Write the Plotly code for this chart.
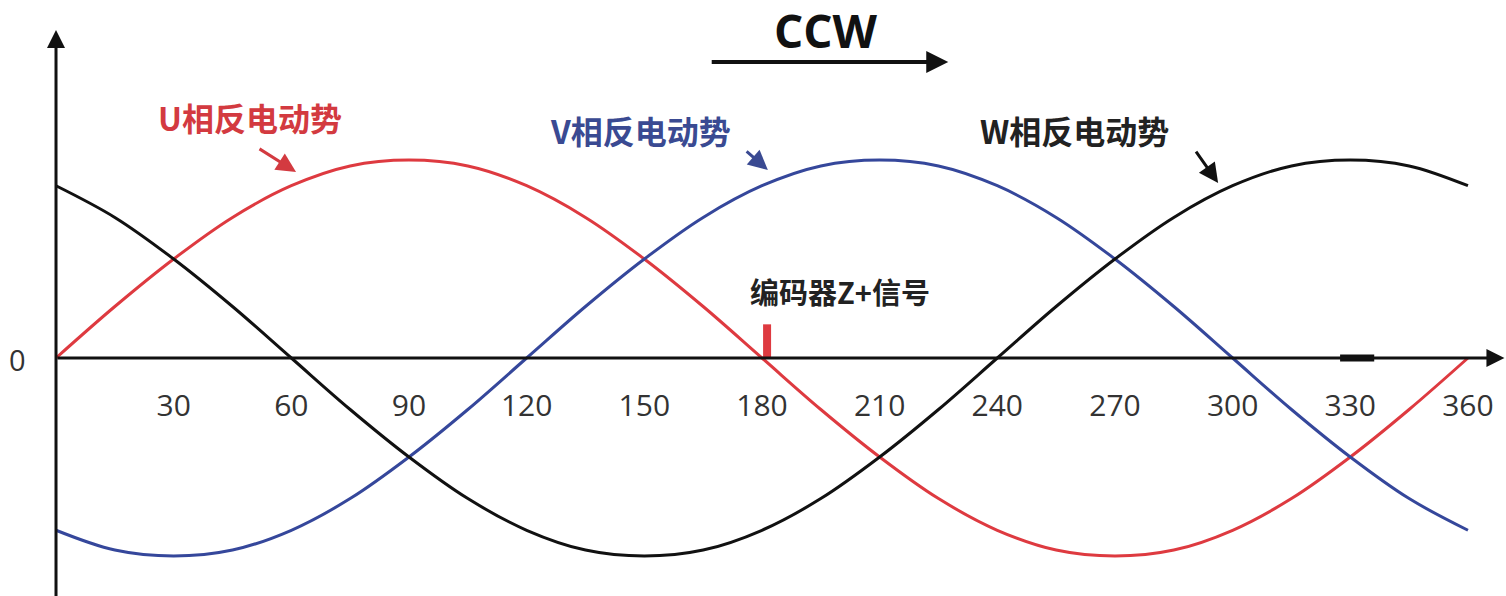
import plotly.graph_objects as go

# ---- data ----
angles = [0, 15, 30, 45, 60, 75, 90, 105, 120, 135, 150, 165, 180,
          195, 210, 225, 240, 255, 270, 285, 300, 315, 330, 345, 360]
u_emf = [0, 0.26, 0.50, 0.71, 0.87, 0.97, 1.00, 0.97, 0.87, 0.71, 0.50, 0.26, 0,
         -0.26, -0.50, -0.71, -0.87, -0.97, -1.00, -0.97, -0.87, -0.71, -0.50, -0.26, 0]
v_emf = [-0.87, -0.97, -1.00, -0.97, -0.87, -0.71, -0.50, -0.26, 0, 0.26, 0.50, 0.71, 0.87,
         0.97, 1.00, 0.97, 0.87, 0.71, 0.50, 0.26, 0, -0.26, -0.50, -0.71, -0.87]
w_emf = [0.87, 0.71, 0.50, 0.26, 0, -0.26, -0.50, -0.71, -0.87, -0.97, -1.00, -0.97, -0.87,
         -0.71, -0.50, -0.26, 0, 0.26, 0.50, 0.71, 0.87, 0.97, 1.00, 0.97, 0.87]
tick_vals = [30, 60, 90, 120, 150, 180, 210, 240, 270, 300, 330, 360]
tick_text = [str(v) for v in tick_vals]

RED = "#de3a40"
BLUE = "#35479b"
BLACK = "#111111"

fig = go.Figure()
for ys, col in [(u_emf, RED), (v_emf, BLUE), (w_emf, BLACK)]:
    fig.add_trace(go.Scatter(x=angles, y=ys, mode="lines",
                             line=dict(color=col, width=3, shape="spline", smoothing=1.0),
                             hoverinfo="skip", showlegend=False))

# tick labels below the horizontal axis
fig.add_trace(go.Scatter(x=tick_vals, y=[-0.255] * len(tick_vals), mode="text",
                         text=tick_text, textposition="middle center",
                         textfont=dict(size=30, color="#333333", family="Open Sans"),
                         hoverinfo="skip", showlegend=False, cliponaxis=False))

annotations = [
    # axes with arrows
    dict(x=0, y=1.657, ax=0, ay=-1.21, axref="x", ayref="y", showarrow=True, text="",
         arrowhead=2, arrowsize=1.2, arrowwidth=3, arrowcolor=BLACK, standoff=0),
    dict(x=369.3, y=0, ax=0, ay=0, axref="x", ayref="y", showarrow=True, text="",
         arrowhead=2, arrowsize=1.2, arrowwidth=3, arrowcolor=BLACK, standoff=0),
    # origin label
    dict(x=-9.7, y=-0.01, text="0", showarrow=False,
         font=dict(size=29, color="#333333", family="Open Sans")),
    # CCW
    dict(x=196.3, y=1.655, text="<b>CCW</b>", showarrow=False,
         font=dict(size=46, color=BLACK, family="Open Sans")),
    dict(x=227.5, y=1.495, ax=166.8, ay=1.495, axref="x", ayref="y", showarrow=True, text="",
         arrowhead=2, arrowsize=1.1, arrowwidth=4, arrowcolor=BLACK, standoff=0),
    # phase labels
    dict(x=49.5, y=1.217, text="<b>U相反电动势</b>", showarrow=False,
         font=dict(size=32, color="#d33a40", family="Noto Sans CJK SC")),
    dict(x=61.2, y=0.939, ax=51.5, ay=1.061, axref="x", ayref="y", showarrow=True, text="",
         arrowhead=2, arrowsize=1.3, arrowwidth=3, arrowcolor="#d33a40", standoff=0),
    dict(x=148.9, y=1.152, text="<b>V相反电动势</b>", showarrow=False,
         font=dict(size=32, color="#3a4a92", family="Noto Sans CJK SC")),
    dict(x=181.5, y=0.95, ax=175.7, ay=1.05, axref="x", ayref="y", showarrow=True, text="",
         arrowhead=2, arrowsize=1.3, arrowwidth=3, arrowcolor="#3a4a92", standoff=0),
    dict(x=259.8, y=1.152, text="<b>W相反电动势</b>", showarrow=False,
         font=dict(size=32, color="#222222", family="Noto Sans CJK SC")),
    dict(x=296.3, y=0.884, ax=290.4, ay=1.05, axref="x", ayref="y", showarrow=True, text="",
         arrowhead=2, arrowsize=1.3, arrowwidth=3, arrowcolor=BLACK, standoff=0),
    # encoder label
    dict(x=199.9, y=0.338, text="<b>编码器Z+信号</b>", showarrow=False,
         font=dict(size=29, color="#222222", family="Noto Sans CJK SC")),
]

shapes = [
    # encoder Z+ pulse marker
    dict(type="line", x0=181.3, x1=181.3, y0=0, y1=0.17, xref="x", yref="y",
         line=dict(color=RED, width=8)),
    # thick dash on axis near 330
    dict(type="line", x0=327.4, x1=336.1, y0=0, y1=0, xref="x", yref="y",
         line=dict(color=BLACK, width=7)),
]

fig.update_layout(
    width=1506, height=596,
    margin=dict(l=0, r=0, t=0, b=0),
    paper_bgcolor="white", plot_bgcolor="white",
    xaxis=dict(range=[-14.28, 369.7], visible=False, fixedrange=True),
    yaxis=dict(range=[-1.202, 1.808], visible=False, fixedrange=True),
    annotations=annotations, shapes=shapes,
    showlegend=False,
)

fig.write_html("out.html", config={"displayModeBar": False},
               post_script="document.body.style.margin='0';document.body.style.overflow='hidden';")
